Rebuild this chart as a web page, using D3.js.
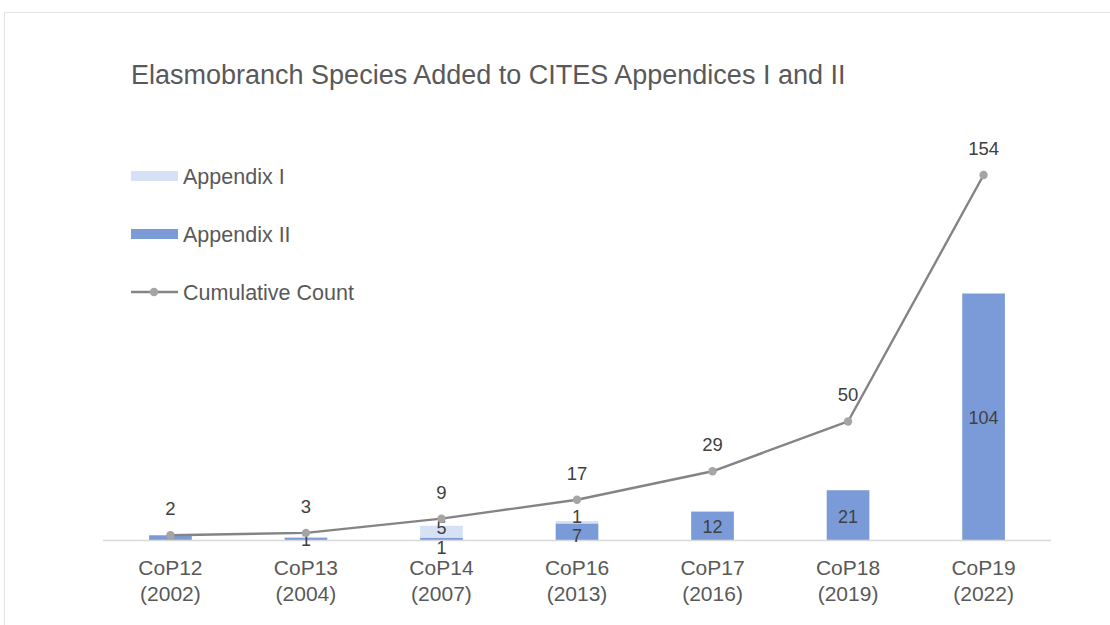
<!DOCTYPE html>
<html>
<head>
    <title>Elasmobranch CITES listings</title>
    <script src="https://d3js.org/d3.v7.min.js"></script>
    <style>
        body { margin: 0; background: #fff; font-family: "Liberation Sans", Arial, sans-serif; }
        text { font-family: "Liberation Sans", Arial, sans-serif; }
    </style>
</head>
<body>
<div class="chart"></div>
<script>
    // data
    const meetings = ["CoP12", "CoP13", "CoP14", "CoP16", "CoP17", "CoP18", "CoP19"];
    const years = ["(2002)", "(2004)", "(2007)", "(2013)", "(2016)", "(2019)", "(2022)"];
    const appendixI = [0, 0, 5, 1, 0, 0, 0];
    const appendixII = [2, 1, 1, 7, 12, 21, 104];
    const cumulative = [2, 3, 9, 17, 29, 50, 154];
    // the CoP12 bar label is hidden behind the line in the original
    const showIILabel = [false, true, true, true, true, true, true];

    const W = 1110, H = 625;
    const svg = d3.select(".chart").append("svg").attr("width", W).attr("height", H);

    // light frame of the original screenshot
    svg.append("path")
        .attr("d", "M4.5," + H + "V12.5H" + W)
        .attr("fill", "none")
        .attr("stroke", "#e3e3e3")
        .attr("stroke-width", 1);

    const margin = {left: 103, right: 59};
    const baseY = 540;

    const x = d3.scaleBand().domain(meetings).range([margin.left, W - margin.right]).paddingInner(0.685).paddingOuter(0.34);
    const y = d3.scaleLinear().domain([0, 154]).range([baseY, 175]);
    const cx = m => x(m) + x.bandwidth() / 2;

    svg.append("text")
        .attr("x", 131).attr("y", 84)
        .attr("font-size", 27)
        .attr("fill", "#595959")
        .text("Elasmobranch Species Added to CITES Appendices I and II");

    const rows = meetings.map((m, i) => ({m: m, i: i, a1: appendixI[i], a2: appendixII[i]}));

    // Appendix II at the bottom of the stack, Appendix I on top
    svg.selectAll(".bar2").data(rows).enter().append("rect")
        .attr("class", "bar2")
        .attr("x", d => x(d.m))
        .attr("width", x.bandwidth())
        .attr("y", d => y(d.a2))
        .attr("height", d => y(0) - y(d.a2))
        .attr("fill", "#7a9bd8");

    svg.selectAll(".bar1").data(rows).enter().append("rect")
        .attr("class", "bar1")
        .attr("x", d => x(d.m))
        .attr("width", x.bandwidth())
        .attr("y", d => y(d.a2 + d.a1))
        .attr("height", d => y(d.a2) - y(d.a2 + d.a1))
        .attr("fill", "#d6e1f5");

    // baseline
    svg.append("line")
        .attr("x1", margin.left).attr("x2", W - margin.right)
        .attr("y1", baseY + 0.5).attr("y2", baseY + 0.5)
        .attr("stroke", "#d9d9d9").attr("stroke-width", 1.3);

    // labels inside bars, pushed apart when the two segments are too thin
    const minGap = 19;
    rows.forEach(function(d) {
        let c2 = (y(0) + y(d.a2)) / 2;
        let c1 = (y(d.a2) + y(d.a2 + d.a1)) / 2;
        if (d.a1 > 0 && d.a2 > 0 && c2 - c1 < minGap) {
            if (y(0) - y(d.a2) > 12) { c2 = c2 + 3; c1 = c2 - minGap; }
            else { const mid = (c1 + c2) / 2; c1 = mid - 8; c2 = c1 + minGap; }
        }
        d.c1 = c1; d.c2 = c2;
    });

    svg.selectAll(".lab2").data(rows.filter(d => d.a2 > 0 && showIILabel[d.i])).enter().append("text")
        .attr("class", "lab2")
        .attr("x", d => cx(d.m))
        .attr("y", d => d.c2)
        .attr("dy", "0.42em")
        .attr("text-anchor", "middle")
        .attr("font-size", 18)
        .attr("fill", "#404040")
        .text(d => d.a2);

    svg.selectAll(".lab1").data(rows.filter(d => d.a1 > 0)).enter().append("text")
        .attr("class", "lab1")
        .attr("x", d => cx(d.m))
        .attr("y", d => d.c1)
        .attr("dy", "0.38em")
        .attr("text-anchor", "middle")
        .attr("font-size", 18)
        .attr("fill", "#404040")
        .text(d => d.a1);

    // x axis labels
    const ax = svg.append("g");
    meetings.forEach(function(m, i) {
        const t = ax.append("text")
            .attr("text-anchor", "middle")
            .attr("font-size", 21)
            .attr("fill", "#595959");
        t.append("tspan").attr("x", cx(m)).attr("y", 575).text(m);
        t.append("tspan").attr("x", cx(m)).attr("y", 601).text(years[i]);
    });

    // cumulative line
    const line = d3.line()
        .x((d, i) => cx(meetings[i]))
        .y(d => y(d));

    svg.append("path")
        .datum(cumulative)
        .attr("fill", "none")
        .attr("stroke", "#848484")
        .attr("stroke-width", 2.4)
        .attr("stroke-linejoin", "round")
        .attr("d", line);

    svg.selectAll(".pt").data(cumulative).enter().append("circle")
        .attr("class", "pt")
        .attr("cx", (d, i) => cx(meetings[i]))
        .attr("cy", d => y(d))
        .attr("r", 4.2)
        .attr("fill", "#a5a5a5");

    svg.selectAll(".cl").data(cumulative).enter().append("text")
        .attr("class", "cl")
        .attr("x", (d, i) => cx(meetings[i]))
        .attr("y", d => y(d) - 20)
        .attr("text-anchor", "middle")
        .attr("font-size", 18.5)
        .attr("fill", "#404040")
        .text(d => d);

    // legend
    const legend = [
        {name: "Appendix I", type: "bar", color: "#d6e1f5"},
        {name: "Appendix II", type: "bar", color: "#7a9bd8"},
        {name: "Cumulative Count", type: "line", color: "#848484"}
    ];
    const lg = svg.selectAll(".legend").data(legend).enter().append("g")
        .attr("class", "legend")
        .attr("transform", (d, i) => "translate(131," + (176 + i * 58) + ")");

    lg.filter(d => d.type === "bar").append("rect")
        .attr("x", 0).attr("y", -5).attr("width", 47).attr("height", 10)
        .attr("fill", d => d.color);
    lg.filter(d => d.type === "line").append("line")
        .attr("x1", 0).attr("x2", 47).attr("y1", 0).attr("y2", 0)
        .attr("stroke", d => d.color).attr("stroke-width", 2.4);
    lg.filter(d => d.type === "line").append("circle")
        .attr("cx", 23).attr("cy", 0).attr("r", 4.2).attr("fill", "#a5a5a5");
    lg.append("text")
        .attr("x", 52).attr("y", 0).attr("dy", "0.36em")
        .attr("font-size", 21.5)
        .attr("fill", "#595959")
        .text(d => d.name);
</script>
</body>
</html>
